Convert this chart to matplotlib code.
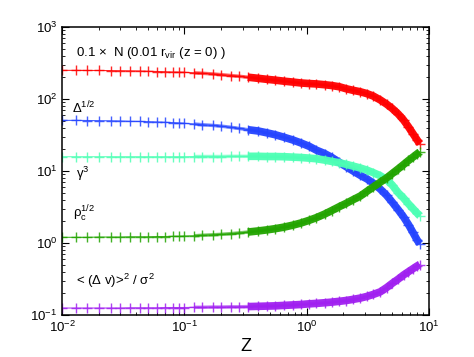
import matplotlib
matplotlib.use("Agg")
import matplotlib.pyplot as plt
import numpy as np

plt.rcParams['font.family'] = ['Liberation Sans', 'DejaVu Sans']
plt.rcParams['mathtext.fontset'] = 'custom'
plt.rcParams['mathtext.rm'] = 'Liberation Sans'
plt.rcParams['mathtext.it'] = 'Liberation Sans:italic'
plt.rcParams['mathtext.default'] = 'regular'

z = [0.010, 0.013, 0.016, 0.020, 0.025, 0.030, 0.036, 0.043, 0.050, 0.060,
     0.070, 0.080, 0.090, 0.10, 0.12, 0.14, 0.17, 0.20, 0.24, 0.28,
     0.33, 0.40, 0.47, 0.55, 0.65, 0.77, 0.90, 1.05, 1.2, 1.4,
     1.6, 1.85, 2.1, 2.4, 2.75, 3.1, 3.5, 4.0, 4.5, 5.0,
     5.6, 6.2, 6.8, 7.4, 8.0, 8.4]

n_core = [250, 250, 249, 249, 248, 247, 246, 245, 243, 241,
          239, 237, 236, 235, 231, 228, 223, 218, 212, 207,
          201, 194, 188, 183, 177, 172, 167, 164, 162, 158,
          154, 148, 139, 132, 126, 119, 110, 97, 85, 74,
          62, 51, 41, 33, 27, 24]

delta_half = [50.5, 50.5, 50.3, 50.0, 49.8, 49.5, 49.0, 48.8, 48.5, 48.0,
              47.5, 47.0, 46.5, 46.0, 45.0, 44.0, 43.0, 42.0, 40.5, 39.0,
              37.5, 36.0, 34.0, 32.0, 29.5, 27.0, 24.5, 22.0, 19.5, 17.5,
              15.5, 13.2, 11.5, 10.0, 8.7, 7.8, 6.8, 5.6, 4.6, 3.7,
              2.9, 2.3, 1.8, 1.4, 1.1, 0.98]

gamma3 = [15.8, 15.8, 15.8, 15.8, 15.8, 15.8, 15.8, 15.8, 15.8, 15.8,
          15.8, 15.8, 15.8, 15.8, 15.9, 15.9, 15.9, 15.9, 16.0, 16.0,
          16.0, 16.0, 15.9, 15.9, 15.8, 15.6, 15.4, 15.1, 14.8, 14.2,
          13.6, 13.0, 12.4, 11.7, 11.0, 10.3, 9.5, 8.6, 7.6, 6.4,
          5.0, 4.2, 3.5, 3.0, 2.6, 2.4]

rho_c_half = [1.20, 1.20, 1.20, 1.21, 1.21, 1.21, 1.22, 1.22, 1.22, 1.23,
              1.23, 1.24, 1.24, 1.25, 1.26, 1.28, 1.30, 1.32, 1.35, 1.38,
              1.42, 1.47, 1.52, 1.58, 1.66, 1.77, 1.90, 2.07, 2.25, 2.52,
              2.82, 3.2, 3.55, 4.0, 4.5, 5.2, 6.0, 7.0, 8.0, 9.2,
              10.7, 12.3, 14.0, 15.6, 17.3, 18.4]

dv_sigma = [0.125, 0.125, 0.125, 0.125, 0.125, 0.125, 0.126, 0.126, 0.126, 0.126,
            0.127, 0.127, 0.127, 0.127, 0.128, 0.128, 0.129, 0.129, 0.130, 0.130,
            0.131, 0.132, 0.133, 0.134, 0.136, 0.138, 0.140, 0.143, 0.145, 0.148,
            0.151, 0.155, 0.159, 0.165, 0.172, 0.181, 0.193, 0.210, 0.240, 0.275,
            0.315, 0.36, 0.40, 0.44, 0.48, 0.50]

series = [
    (n_core, '#ff0000'),
    (delta_half, '#2444ff'),
    (gamma3, '#4dffb4'),
    (rho_c_half, '#22a400'),
    (dv_sigma, '#a020f0'),
]

labels = [
    (0.038, 0.910, r'0.1 $\times$  N (0.01 r$_{vir}$ (z = 0) )'),
    (0.027, 0.720, r'Δ$^{1/2}$'),
    (0.038, 0.490, r'γ$^{3}$'),
    (0.030, 0.350, r'ρ$_{c}^{1/2}$'),
    (0.038, 0.120, r'< (Δ v)>$^{2}$ / σ$^{2}$'),
]

fig = plt.figure(figsize=(4.74, 3.57), dpi=100)
ax = fig.add_axes([0.131, 0.1176, 0.774, 0.8067])

zarr = np.array(z)
mid = zarr >= 0.12
thick = zarr >= 0.3
for vals, col in series:
    v = np.array(vals)
    ax.plot(zarr, v, color=col, lw=0.8, marker='+', ms=7, mew=1.0, alpha=0.85)
    ax.plot(zarr[mid], v[mid], color=col, lw=2.5, solid_capstyle='butt', alpha=0.6)
    ax.plot(zarr[thick], v[thick], color=col, lw=5.5, solid_capstyle='butt', alpha=0.95)

ax.set_xscale('log')
ax.set_yscale('log')
ax.set_xlim(0.01, 10)
ax.set_ylim(0.1, 1000)

for x, y, t in labels:
    ax.text(x, y, t, transform=ax.transAxes, fontsize=9.5, ha='left', va='center')

ax.set_xlabel('Z', fontsize=13, labelpad=2)
ax.tick_params(which='both', direction='in', top=True, right=True, labelsize=9.5)
ax.tick_params(which='major', length=5, width=0.8)
ax.tick_params(which='minor', length=2.5, width=0.6)
for s in ax.spines.values():
    s.set_linewidth(1.1)

fig.savefig('out.png', dpi=100)
